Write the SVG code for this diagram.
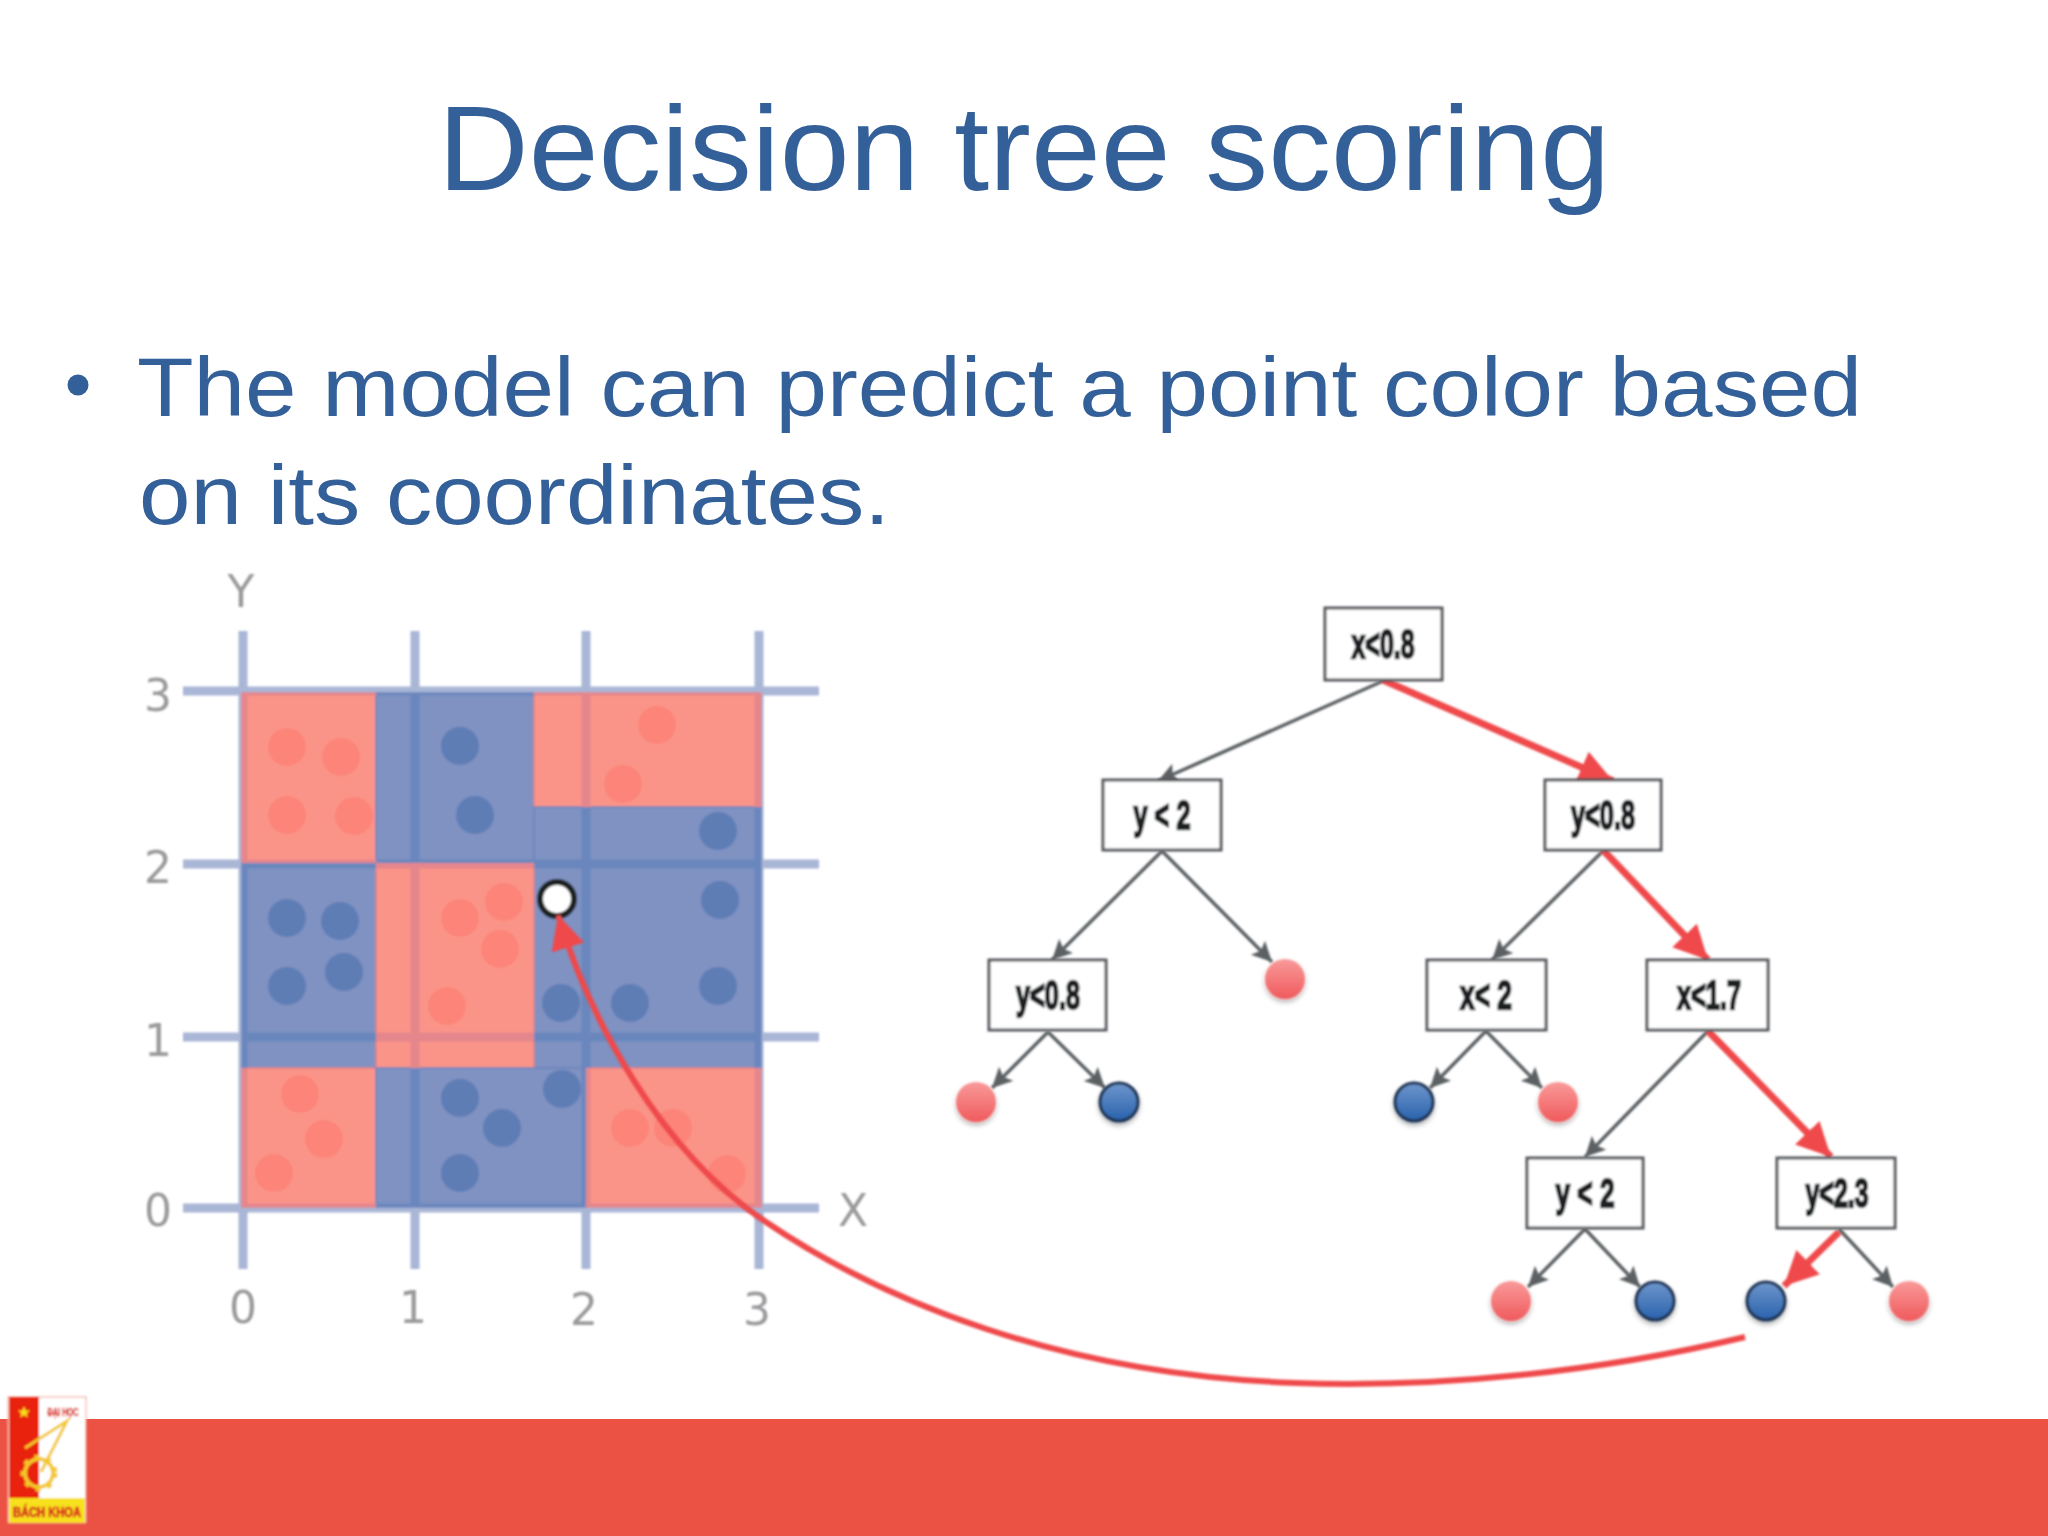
<svg xmlns="http://www.w3.org/2000/svg" width="2048" height="1536" viewBox="0 0 2048 1536">
<style>
.title{font-family:"Liberation Sans",Arial,sans-serif;fill:#34609A}
.ax{font-family:"DejaVu Sans",sans-serif;font-size:44px;fill:#9A9A9C;text-anchor:middle}
.box{fill:#fff;stroke:#55595C;stroke-width:3}
.lbl{font-family:"Liberation Sans",Arial,sans-serif;font-weight:700;font-size:40px;fill:#1E2024;stroke:#1E2024;stroke-width:2.4;text-anchor:middle}
.g{stroke:#5C6164;stroke-width:3.5;fill:none;marker-end:url(#ag)}
.r{stroke:#EF4A4C;stroke-width:7;fill:none;marker-end:url(#ar)}
.rr{fill:#FB9488;stroke:#E0808A;stroke-width:1.5}
.br{fill:#7F92C2;stroke:#6C86BC;stroke-width:1.5}
.dr{fill:#FC8478}
.db{fill:#5F7DB5}
.gl{stroke-width:9;fill:none}
.lr{fill:url(#gr);filter:url(#sh)}
.lb{fill:url(#gb);stroke:#1E3050;stroke-width:3;filter:url(#sh)}
</style>
<defs>
<linearGradient id="gr" x1="0" y1="0" x2="0" y2="1"><stop offset="0" stop-color="#F99A9A"/><stop offset="1" stop-color="#F05A5C"/></linearGradient>
<linearGradient id="gb" x1="0" y1="0" x2="0" y2="1"><stop offset="0" stop-color="#6E96CC"/><stop offset="1" stop-color="#2A62AC"/></linearGradient>
<filter id="sh" x="-30%" y="-30%" width="160%" height="170%"><feDropShadow dx="0" dy="3" stdDeviation="2.5" flood-color="#000" flood-opacity=".3"/></filter>
<filter id="soft"><feGaussianBlur stdDeviation="0.8"/></filter>
<marker id="ag" markerUnits="userSpaceOnUse" markerWidth="24" markerHeight="22" refX="20" refY="10" orient="auto"><path d="M0,0 L20,10 L0,20 L4,10 Z" fill="#5C6164"/></marker>
<marker id="ar" markerUnits="userSpaceOnUse" markerWidth="40" markerHeight="40" refX="34" refY="17" orient="auto"><path d="M0,0 L34,17 L0,34 Z" fill="#EF4A4C"/></marker>
<clipPath id="cr"><path d="M242 693H376V863H242ZM534 693H761V807H534ZM376 863H534V1068H376ZM242 1068H376V1207H242ZM586 1068H761V1207H586Z"/></clipPath>
<clipPath id="cb"><path d="M376 693H534V863H376ZM534 807H761V1068H534ZM242 863H376V1068H242ZM376 1068H586V1207H376Z"/></clipPath>
<g id="grid"><path d="M243 631V1269M415 631V1269M586 631V1269M759 631V1269M183 691H819M183 864H819M183 1037H819M183 1208H819"/></g>
</defs>
<rect width="2048" height="1536" fill="#FFFFFF"/>
<g id="heading">
<text class="title" x="1024" y="190" font-size="120" text-anchor="middle" textLength="1172" lengthAdjust="spacingAndGlyphs">Decision tree scoring</text>
<circle cx="78" cy="385" r="10.5" fill="#34609A"/>
<text class="title" x="137" y="416" font-size="84" textLength="1725" lengthAdjust="spacingAndGlyphs">The model can predict a point color based</text>
<text class="title" x="139" y="524" font-size="84" textLength="751" lengthAdjust="spacingAndGlyphs">on its coordinates.</text>
</g>
<g id="band"><rect x="0" y="1419" width="2048" height="117" fill="#EB5244"/></g>
<g id="plot" filter="url(#soft)">
<use href="#grid" class="gl" stroke="#A9B6D6"/>
<rect class="rr" x="242" y="693" width="134" height="170"/>
<rect class="br" x="376" y="693" width="158" height="170"/>
<rect class="rr" x="534" y="693" width="227" height="114"/>
<rect class="br" x="534" y="807" width="227" height="261"/>
<rect class="br" x="242" y="863" width="134" height="205"/>
<rect class="rr" x="376" y="863" width="158" height="205"/>
<rect class="rr" x="242" y="1068" width="134" height="139"/>
<rect class="br" x="376" y="1068" width="210" height="139"/>
<rect class="rr" x="586" y="1068" width="175" height="139"/>
<g clip-path="url(#cr)"><use href="#grid" class="gl" stroke="#E5868C"/></g>
<g clip-path="url(#cb)"><use href="#grid" class="gl" stroke="#6A87BD"/></g>
<g class="dr"><circle cx="287" cy="747" r="19"/><circle cx="341" cy="757" r="19"/><circle cx="287" cy="815" r="19"/><circle cx="354" cy="816" r="19"/><circle cx="657" cy="725" r="19"/><circle cx="623" cy="784" r="19"/><circle cx="460" cy="918" r="19"/><circle cx="504" cy="902" r="19"/><circle cx="500" cy="949" r="19"/><circle cx="447" cy="1006" r="19"/><circle cx="300" cy="1094" r="19"/><circle cx="324" cy="1139" r="19"/><circle cx="274" cy="1173" r="19"/><circle cx="630" cy="1128" r="19"/><circle cx="673" cy="1128" r="19"/><circle cx="727" cy="1174" r="19"/></g>
<g class="db"><circle cx="460" cy="746" r="19"/><circle cx="475" cy="815" r="19"/><circle cx="718" cy="831" r="19"/><circle cx="720" cy="900" r="19"/><circle cx="718" cy="986" r="19"/><circle cx="630" cy="1003" r="19"/><circle cx="561" cy="1003" r="19"/><circle cx="562" cy="1089" r="19"/><circle cx="287" cy="918" r="19"/><circle cx="340" cy="921" r="19"/><circle cx="287" cy="986" r="19"/><circle cx="344" cy="972" r="19"/><circle cx="460" cy="1098" r="19"/><circle cx="502" cy="1128" r="19"/><circle cx="460" cy="1173" r="19"/></g>
<circle cx="557" cy="899" r="17" fill="#fff" stroke="#1E2024" stroke-width="6"/>
<g class="ax">
<text x="241" y="607">Y</text><text x="158" y="711">3</text><text x="158" y="883">2</text><text x="158" y="1056">1</text><text x="158" y="1226">0</text>
<text x="243" y="1323">0</text><text x="413" y="1323">1</text><text x="584" y="1325">2</text><text x="757" y="1325">3</text><text x="853" y="1226">X</text>
</g>
</g>
<g id="connectors" filter="url(#soft)">
<path class="g" d="M1383 681L1158 781"/>
<path class="g" d="M1162 851L1052 960"/><path class="g" d="M1162 851L1272 962"/>
<path class="g" d="M1048 1032L992 1088"/><path class="g" d="M1048 1032L1105 1088"/>
<path class="g" d="M1603 851L1492 960"/>
<path class="g" d="M1486 1031L1430 1088"/><path class="g" d="M1486 1031L1542 1088"/>
<path class="g" d="M1708 1031L1585 1157"/>
<path class="g" d="M1585 1229L1528 1287"/><path class="g" d="M1585 1229L1640 1287"/>
<path class="g" d="M1839 1229L1893 1287"/>
<path class="r" d="M1383 680L1613 781"/>
<path class="r" d="M1603 850L1708 960"/>
<path class="r" d="M1708 1031L1831 1157"/>
<path class="r" d="M1839 1232L1784 1286"/>
<path stroke="#EF4A4C" stroke-width="6" fill="none" marker-end="url(#ar)" d="M1745 1337C1600 1372 1440 1388 1296 1383C1060 1375 880 1300 763 1220C660 1150 590 1020 558 915"/>
</g>
<g filter="url(#soft)">
<g id="n-root"><rect class="box" x="1325" y="608" width="117" height="72"/><text class="lbl" x="1383" y="658" textLength="63" lengthAdjust="spacingAndGlyphs">x&lt;0.8</text></g>
<g id="n-y2"><rect class="box" x="1103" y="780" width="118" height="70"/><text class="lbl" x="1162" y="829" textLength="57" lengthAdjust="spacingAndGlyphs">y &lt; 2</text></g>
<g id="n-y08r"><rect class="box" x="1545" y="780" width="116" height="70"/><text class="lbl" x="1603" y="829" textLength="64" lengthAdjust="spacingAndGlyphs">y&lt;0.8</text></g>
<g id="n-y08l"><rect class="box" x="989" y="960" width="117" height="70"/><text class="lbl" x="1048" y="1009" textLength="64" lengthAdjust="spacingAndGlyphs">y&lt;0.8</text></g>
<g id="n-x2"><rect class="box" x="1427" y="960" width="119" height="70"/><text class="lbl" x="1486" y="1009" textLength="52" lengthAdjust="spacingAndGlyphs">x&lt; 2</text></g>
<g id="n-x17"><rect class="box" x="1647" y="960" width="121" height="70"/><text class="lbl" x="1709" y="1009" textLength="64" lengthAdjust="spacingAndGlyphs">x&lt;1.7</text></g>
<g id="n-y2b"><rect class="box" x="1527" y="1158" width="116" height="70"/><text class="lbl" x="1585" y="1207" textLength="59" lengthAdjust="spacingAndGlyphs">y &lt; 2</text></g>
<g id="n-y23"><rect class="box" x="1777" y="1158" width="118" height="70"/><text class="lbl" x="1837" y="1207" textLength="63" lengthAdjust="spacingAndGlyphs">y&lt;2.3</text></g>
<g id="leaf-1"><circle class="lr" cx="1285" cy="979" r="20"/></g>
<g id="leaf-2"><circle class="lr" cx="976" cy="1102" r="20"/></g>
<g id="leaf-3"><circle class="lb" cx="1119" cy="1102" r="19"/></g>
<g id="leaf-4"><circle class="lb" cx="1414" cy="1102" r="19"/></g>
<g id="leaf-5"><circle class="lr" cx="1558" cy="1102" r="20"/></g>
<g id="leaf-6"><circle class="lr" cx="1511" cy="1301" r="20"/></g>
<g id="leaf-7"><circle class="lb" cx="1655" cy="1301" r="19"/></g>
<g id="leaf-8"><circle class="lb" cx="1766" cy="1301" r="19"/></g>
<g id="leaf-9"><circle class="lr" cx="1909" cy="1301" r="20"/></g>
</g>
<g id="logo" filter="url(#soft)">
<rect x="8" y="1397" width="78" height="126" fill="#fff" stroke="#F2A08C" stroke-width="1"/>
<rect x="9" y="1397" width="30" height="101" fill="#E8200E"/>
<rect x="9" y="1498" width="76" height="25" fill="#F7E01E"/>
<path d="M24 1406l1.600 4.400h4.700l-3.800 2.800 1.400 4.500-3.900-2.700-3.900 2.700 1.400-4.500-3.800-2.800h4.700z" fill="#F7E01E"/>
<text x="63" y="1416" font-family="Liberation Sans,sans-serif" font-weight="700" font-size="10" fill="#D8281C" stroke="#D8281C" stroke-width=".4" text-anchor="middle" textLength="31" lengthAdjust="spacingAndGlyphs">ĐẠI HỌC</text>
<text x="47" y="1517" font-family="Liberation Sans,sans-serif" font-weight="700" font-size="15" fill="#D8281C" stroke="#D8281C" stroke-width=".7" text-anchor="middle" textLength="68" lengthAdjust="spacingAndGlyphs">BÁCH KHOA</text>
<circle cx="39" cy="1473" r="14" fill="none" stroke="#F3C82A" stroke-width="4"/>
<circle cx="39" cy="1473" r="17" fill="none" stroke="#F3C82A" stroke-width="3" stroke-dasharray="5 7.500"/>
<path d="M25 1448L67 1421L41 1472" fill="none" stroke="#F3C82A" stroke-width="3"/>
</g>
</svg>
